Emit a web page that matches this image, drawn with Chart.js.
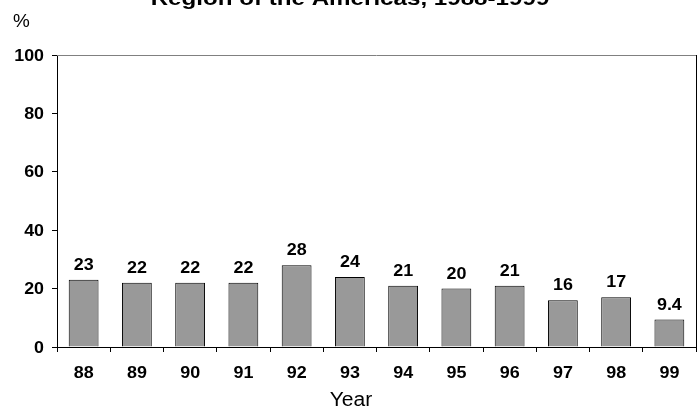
<!DOCTYPE html>
<html>
<head>
<meta charset="utf-8">
<script src="https://cdn.jsdelivr.net/npm/chart.js@4.4.1/dist/chart.umd.min.js"></script>
<style>
  html, body { margin: 0; padding: 0; background: #fff; }
  #wrap { width: 700px; height: 407px; position: relative; }
</style>
</head>
<body>
<div id="wrap"><canvas id="c" width="700" height="407"></canvas></div>
<script>
const years = ['88', '89', '90', '91', '92', '93', '94', '95', '96', '97', '98', '99'];
const percentages = [23, 22, 22, 22, 28, 24, 21, 20, 21, 16, 17, 9.4];
const yTicks = [0, 20, 40, 60, 80, 100];
const titleText = 'Region of the Americas, 1988-1999';
const yUnit = '%';
const xTitle = 'Year';

const FONT = 'Arial, "Liberation Sans", sans-serif';
const STRETCH = 1.12;

// text drawn with a slight horizontal stretch, like the original typeface
function drawText(ctx, text, x, y, font, align, baseline, sx) {
  ctx.save();
  ctx.font = font;
  ctx.textAlign = align;
  ctx.textBaseline = baseline;
  ctx.translate(x, y);
  ctx.scale(sx, 1);
  ctx.fillText(text, 0, 0);
  ctx.restore();
}

// Title, unit label, frame, tick labels and value labels
const decorations = {
  id: 'decorations',
  afterDatasetsDraw(chart) {
    const { ctx, chartArea: a, scales } = chart;
    ctx.save();
    // top and right frame lines
    ctx.lineWidth = 1;
    ctx.strokeStyle = '#808080';
    ctx.beginPath();
    ctx.moveTo(a.left, a.top + 0.5);
    ctx.lineTo(a.right, a.top + 0.5);
    ctx.stroke();
    ctx.strokeStyle = '#000';
    ctx.beginPath();
    ctx.moveTo(a.right + 0.5, a.top);
    ctx.lineTo(a.right + 0.5, a.bottom);
    ctx.stroke();
    ctx.fillStyle = '#000';

    // value labels above bars
    const meta = chart.getDatasetMeta(0);
    meta.data.forEach((bar, i) => {
      drawText(ctx, String(percentages[i]), bar.x, bar.y - 10,
        'bold 16px ' + FONT, 'center', 'alphabetic', STRETCH);
    });

    // category labels
    years.forEach((lab, i) => {
      drawText(ctx, lab, scales.x.getPixelForValue(i), 378,
        'bold 16px ' + FONT, 'center', 'alphabetic', STRETCH);
    });

    // value axis labels
    yTicks.forEach(v => {
      drawText(ctx, String(v), 44, scales.y.getPixelForValue(v) + 1,
        'bold 16.5px ' + FONT, 'right', 'middle', 1.08);
    });
    ctx.restore();
  },
  afterDraw(chart) {
    const { ctx } = chart;
    ctx.save();
    ctx.fillStyle = '#000';
    drawText(ctx, titleText, 350, 5, 'bold 21px ' + FONT, 'center', 'alphabetic', 1.15);
    drawText(ctx, yUnit, 13, 27, '18px ' + FONT, 'left', 'alphabetic', 1.05);
    drawText(ctx, xTitle, 351, 406, '19.5px ' + FONT, 'center', 'alphabetic', 1.08);
    ctx.restore();
  }
};

new Chart(document.getElementById('c'), {
  type: 'bar',
  data: {
    labels: years,
    datasets: [{
      data: percentages,
      backgroundColor: '#999999',
      borderColor: '#000000',
      borderWidth: 1,
      borderSkipped: 'bottom',
      barPercentage: 0.56,
      categoryPercentage: 1
    }]
  },
  options: {
    responsive: false,
    animation: false,
    devicePixelRatio: 1,
    layout: { padding: { top: 55, right: 4, left: 0, bottom: 0 } },
    plugins: {
      legend: { display: false },
      tooltip: { enabled: false },
      title: { display: false }
    },
    scales: {
      x: {
        offset: true,
        grid: {
          offset: true,
          drawOnChartArea: false,
          drawTicks: true,
          tickLength: 5,
          color: '#000'
        },
        border: { display: true, color: '#000', width: 1 },
        ticks: { display: false },
        afterFit(scale) { scale.height = 60; }
      },
      y: {
        min: 0,
        max: 100,
        afterBuildTicks(scale) { scale.ticks = yTicks.map(v => ({ value: v })); },
        grid: {
          drawOnChartArea: false,
          drawTicks: true,
          tickLength: 5,
          color: '#000'
        },
        border: { display: true, color: '#000', width: 1 },
        ticks: { display: false },
        afterFit(scale) { scale.width = 57; }
      }
    }
  },
  plugins: [decorations]
});
</script>
</body>
</html>
